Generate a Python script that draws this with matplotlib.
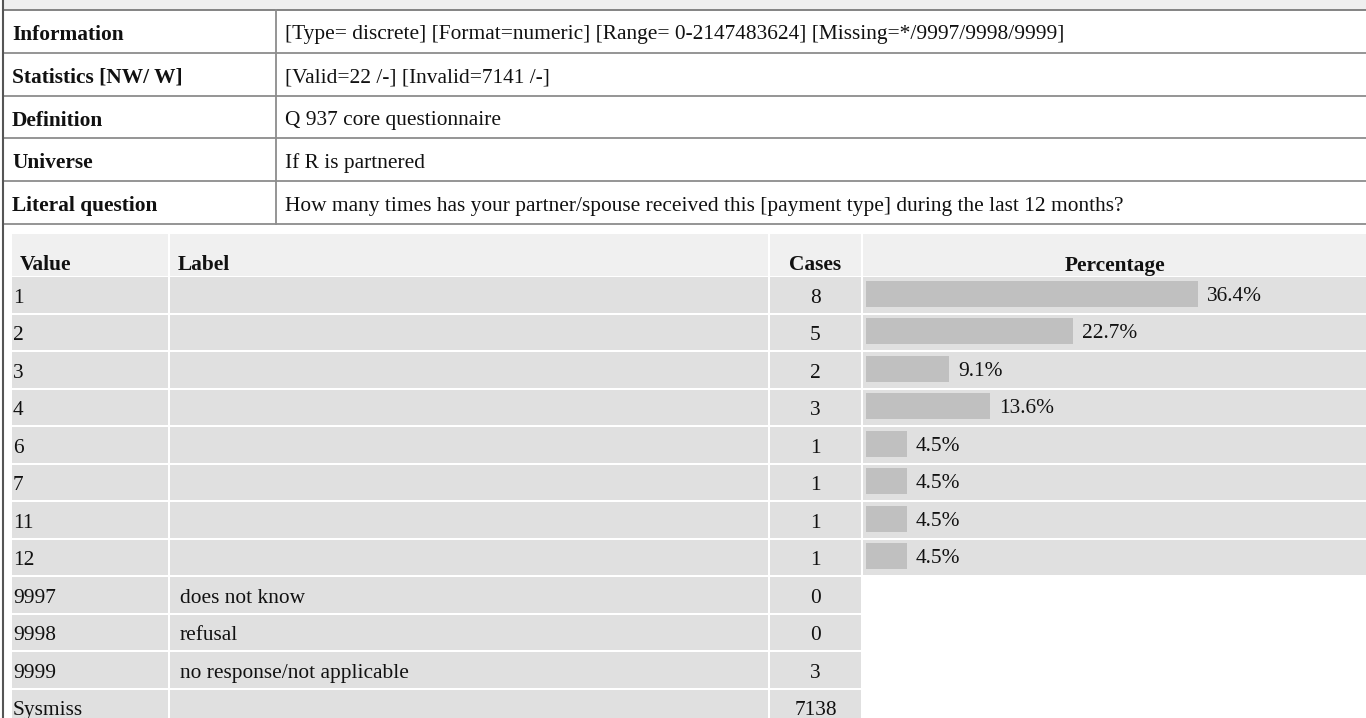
import matplotlib
matplotlib.use("Agg")
import matplotlib.pyplot as plt
from matplotlib.patches import Rectangle

# ---------------- data ----------------
info_labels = ["Information", "Statistics [NW/ W]", "Definition", "Universe", "Literal question"]
info_values = [
    "[Type= discrete] [Format=numeric] [Range= 0-2147483624] [Missing=*/9997/9998/9999]",
    "[Valid=22 /-] [Invalid=7141 /-]",
    "Q 937 core questionnaire",
    "If R is partnered",
    "How many times has your partner/spouse received this [payment type] during the last 12 months?",
]
headers = ["Value", "Label", "Cases", "Percentage"]
values = ["1", "2", "3", "4", "6", "7", "11", "12", "9997", "9998", "9999", "Sysmiss"]
labels = ["", "", "", "", "", "", "", "", "does not know", "refusal",
          "no response/not applicable", ""]
cases = [8, 5, 2, 3, 1, 1, 1, 1, 0, 0, 3, 7138]
pcts = [36.4, 22.7, 9.1, 13.6, 4.5, 4.5, 4.5, 4.5]

# ---------------- layout ----------------
W, H = 1366, 718
FONT = "Liberation Serif"
FS = 15.4
TXT = "#111111"
VA = "center_baseline"

fig = plt.figure(figsize=(W / 100, H / 100), dpi=100)
ax = fig.add_axes([0, 0, 1, 1])
ax.set_xlim(0, W)
ax.set_ylim(H, 0)
ax.axis("off")

# top band
ax.add_patch(Rectangle((3, 0), W - 3, 10, color="#efefef", lw=0))

# upper info table
top = 10
rh = 42.8
colx = 276
border = "#8c8c8c"
for i, (lab, val) in enumerate(zip(info_labels, info_values)):
    y0 = top + i * rh
    yc = y0 + rh / 2 + 1
    ax.text(12, yc, lab, fontsize=FS, fontweight="bold", family=FONT,
            va=VA, ha="left", color=TXT)
    ax.text(285, yc, val, fontsize=FS, family=FONT, va=VA, ha="left", color=TXT)
for i in range(len(info_labels) + 1):
    y = top + i * rh
    ax.plot([3, W], [y, y], color=border if i > 0 else "#7a7a7a", lw=1.3, solid_capstyle="butt")
ax.plot([colx, colx], [top, top + len(info_labels) * rh], color=border, lw=1.3)
# left outer border
ax.plot([3, 3], [0, H], color="#555555", lw=1.5)

# lower table
cols = [(12, 168), (170, 768), (770, 861), (863, W)]
hdr_top, hdr_bot = 234, 276
ax_row0 = 277
rrh = 37.5
for (x0, x1), h in zip(cols, headers):
    ax.add_patch(Rectangle((x0, hdr_top), x1 - x0, hdr_bot - hdr_top, color="#f0f0f0", lw=0))
for j, h in enumerate(headers):
    x0, x1 = cols[j]
    if j < 2:
        ax.text(x0 + 8, 263, h, fontsize=FS, fontweight="bold", family=FONT,
                va=VA, ha="left", color=TXT)
    else:
        ax.text((x0 + x1) / 2, 263, h, fontsize=FS, fontweight="bold", family=FONT,
                va=VA, ha="center", color=TXT)

for i, (v, l, c) in enumerate(zip(values, labels, cases)):
    y0 = ax_row0 + i * rrh
    yc = y0 + rrh / 2
    ncols = 4 if i < len(pcts) else 3
    for k in range(ncols):
        x0, x1 = cols[k]
        ax.add_patch(Rectangle((x0, y0), x1 - x0, rrh - 2, color="#e0e0e0", lw=0))
    ax.text(cols[0][0] + 1, yc, v, fontsize=FS, family=FONT, va=VA, ha="left", color=TXT)
    ax.text(cols[1][0] + 10, yc, l, fontsize=FS, family=FONT, va=VA, ha="left", color=TXT)
    ax.text((cols[2][0] + cols[2][1]) / 2, yc, str(c), fontsize=FS, family=FONT,
            va=VA, ha="center", color=TXT)

# percentage bars in their own axes (percent units)
px_per_pct = 9.12
bx0 = 866
n = len(pcts)
bar_top = ax_row0
bar_bot = ax_row0 + n * rrh
bax = fig.add_axes([bx0 / W, (H - bar_bot) / H, (W - bx0) / W, (bar_bot - bar_top) / H])
bax.set_xlim(0, (W - bx0) / px_per_pct)
bax.set_ylim(n - 0.5, -0.5)
bax.axis("off")
bax.patch.set_visible(False)
ypos = list(range(n))
bax.barh([y - 0.05 for y in ypos], pcts, height=26 / rrh, color="#c0c0c0", lw=0)
for y, p in zip(ypos, pcts):
    bax.annotate(f"{p}%", (p, y - 0.05), xytext=(6.5, 0), textcoords="offset points",
                 fontsize=FS, family=FONT, va=VA, ha="left", color=TXT)

fig.savefig("out.png", dpi=100)
